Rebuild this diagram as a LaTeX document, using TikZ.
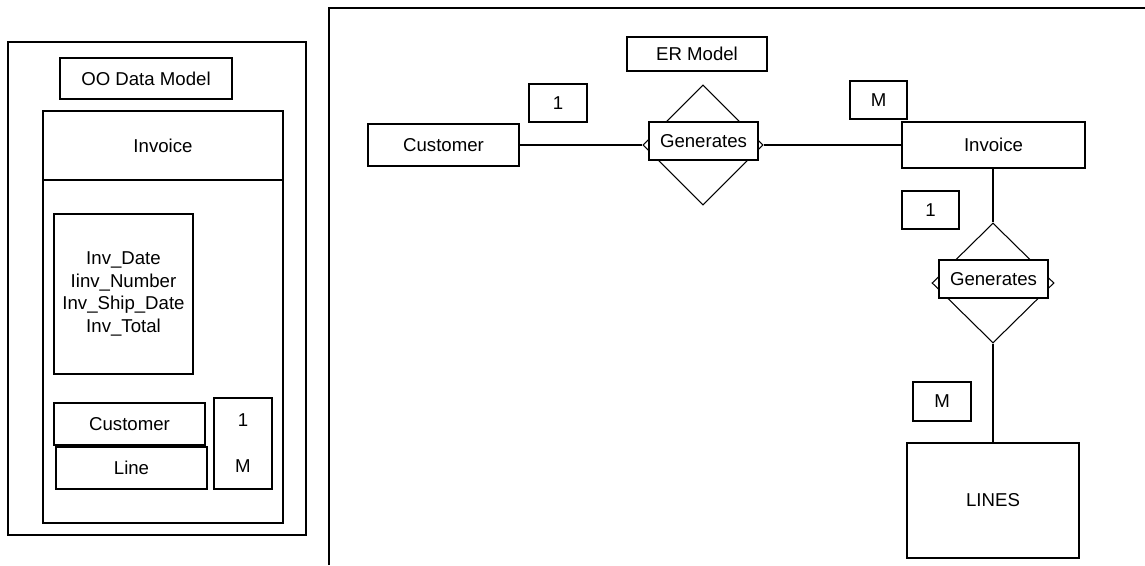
\documentclass[tikz,border=0pt]{standalone}
\usepackage{fontspec}
\setmainfont{Liberation Sans}
\usepackage{tikz}
\usetikzlibrary{positioning, shapes.geometric}

\begin{document}
\begin{tikzpicture}[x=0.02cm, y=-0.02cm, line width=0.6pt,
      font=\fontsize{10.6}{12.8}\selectfont,
      box/.style 2 args={rectangle, draw, fill=white, minimum width=#1*0.02cm, minimum height=#2*0.02cm},
      rel/.style 2 args={diamond, draw, inner sep=0pt, minimum width=#1*0.02cm, minimum height=#2*0.02cm},
      link/.style={-}
    ]
      \useasboundingbox (0,0) rectangle (1145,565);

      % OO data model
      \draw (8,42) rectangle (306,535);
      \node[box={172}{41}] (oo) at (146,78.5) {OO Data Model};
      \draw (43,111) rectangle (283,523);
      \draw (43,180) -- (283,180);
      \node (cls) at (163,145.5) {Invoice};
      \node[box={139}{160}, align=center] (attr) at (123.5,294)
        {Inv\_Date\\Iinv\_Number\\Inv\_Ship\_Date\\Inv\_Total};
      \node[box={151}{42}] (ocust) at (129.5,424) {Customer};
      \node[box={151}{42}] (oline) at (131.5,468) {Line};
      \node[box={58}{91}] (mult) at (243,443.5) {};
      \node (mone) at (243,420) {1};
      \node (mmany) at (243,466) {M};

      % ER model
      \draw (329,565) -- (329,8) -- (1145,8);
      \node[box={140}{34}] (er) at (697,54) {ER Model};
      \node[box={151}{42}] (cust) at (443.5,145) {Customer};
      \node[rel={120}{120}] (gen1) at (703,145) {};
      \node[box={109}{38}] (gen1t) at (703.5,141) {Generates};
      \node[box={183}{46}] (inv) at (993.5,145) {Invoice};
      \node[rel={122}{120}] (gen2) at (993,283) {};
      \node[box={109}{38}] (gen2t) at (993.5,279) {Generates};
      \node[box={172}{115}] (lines) at (993,500.5) {LINES};

      \node[box={58}{38}] (c1) at (558,103) {1};
      \node[box={57}{38}] (c2) at (878.5,100) {M};
      \node[box={57}{38}] (c3) at (930.5,210) {1};
      \node[box={58}{39}] (c4) at (942,401.5) {M};

      \draw[link] (cust.east) -- (gen1.west);
      \draw[link] (gen1.east) -- (inv.west);
      \draw[link] (inv.south -| gen2.north) -- (gen2.north);
      \draw[link] (gen2.south) -- (lines.north -| gen2.south);
    \end{tikzpicture}
\end{document}
